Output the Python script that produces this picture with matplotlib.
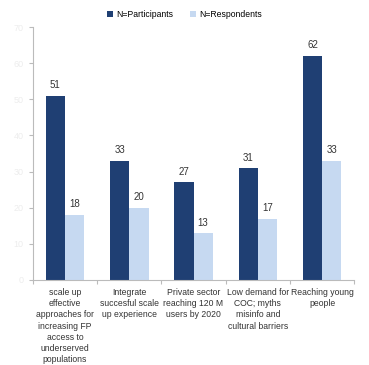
import matplotlib.pyplot as plt
import numpy as np

plt.rcParams['font.family'] = ['Liberation Sans', 'DejaVu Sans']

categories = [
    "scale up\neffective\napproaches for\nincreasing FP\naccess to\nunderserved\npopulations",
    "Integrate\nsuccesful scale\nup experience",
    "Private sector\nreaching 120 M\nusers by 2020",
    "Low demand for\nCOC; myths\nmisinfo and\ncultural barriers",
    "Reaching young\npeople",
]
participants = [51, 33, 27, 31, 62]
respondents = [18, 20, 13, 17, 33]
yticks = [0, 10, 20, 30, 40, 50, 60, 70]

dark = '#1F3F73'
light = '#C6D9F1'

fig = plt.figure(figsize=(3.69, 3.65), dpi=100)
ax = fig.add_axes([0.089, 0.233, 0.871, 0.693])

x = np.arange(len(categories))
w = 0.3
b1 = ax.bar(x - w / 2, participants, w, color=dark, label='N=Participants')
b2 = ax.bar(x + w / 2, respondents, w, color=light, label='N=Respondents')

for bars in (b1, b2):
    for bar in bars:
        ax.text(bar.get_x() + bar.get_width() / 2, bar.get_height() + 1.5,
                str(int(bar.get_height())), ha='center', va='bottom',
                fontsize=7, color='#333333')

ax.set_xlim(-0.5, len(categories) - 0.5)
ax.set_ylim(0, 70)
ax.set_yticks(yticks)
ax.set_yticklabels([str(t) for t in yticks], color='#EDEDED', fontsize=6.5)
ax.tick_params(axis='y', length=3, color='#BBBBBB', width=0.8)

ax.set_xticks(x)
ax.set_xticklabels(categories, fontsize=6.2, color='#333333', linespacing=1.3)
ax.tick_params(axis='x', length=0, pad=6)
ax.set_xticks(np.arange(len(categories) + 1) - 0.5, minor=True)
ax.tick_params(axis='x', which='minor', length=3, color='#BBBBBB', width=0.8)

for s in ('top', 'right'):
    ax.spines[s].set_visible(False)
ax.spines['left'].set_color('#BBBBBB')
ax.spines['bottom'].set_color('#BBBBBB')

fig.legend(loc='upper center', bbox_to_anchor=(0.5, 0.995), ncol=2,
           frameon=False, fontsize=6.2, handlelength=0.7, handleheight=0.7,
           columnspacing=2.0, handletextpad=0.4)

fig.savefig('out.png', dpi=100)
